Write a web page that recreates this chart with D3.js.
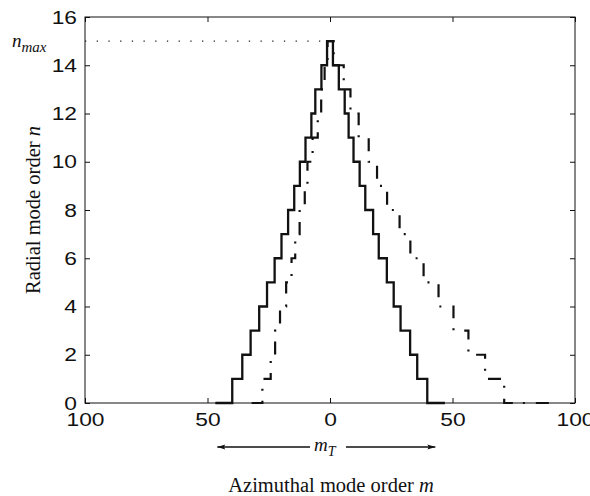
<!DOCTYPE html>
<html>
<head>
<meta charset="utf-8">
<script src="https://cdn.jsdelivr.net/npm/d3@7"></script>
<style>
  body { margin: 0; background: #fff; }
  svg { display: block; }
  .tick text { font-family: "Liberation Sans", Arial, sans-serif; font-size: 19px; fill: #111; }
  .serif { font-family: "Liberation Serif", "Times New Roman", serif; fill: #111; }
</style>
</head>
<body>
<div id="chart"></div>
<script>
// step curve, no flow: level n holds from m[i] until m[i+1]
var solidM = [-46.8, -39.9, -35.8, -32.4, -28.9, -25.7, -22.6, -19.8, -17.1, -14.6, -12.3, -10.0, -7.6, -6.0, -3.5, -1.2,
              1.2, 3.6, 6.0, 7.6, 9.6, 12.1, 14.4, 17.6, 19.9, 23.2, 26.0, 28.8, 32.7, 35.6, 39.7, 46.9];
var solidN = [0, 1, 2, 3, 4, 5, 6, 7, 8, 9, 10, 11, 12, 13, 14, 15,
              14, 13, 12, 11, 10, 9, 8, 7, 6, 5, 4, 3, 2, 1, 0, 0];
// step curve, with flow (dash-dot)
var flowM = [-32.0, -27.6, -24.2, -22.4, -20.4, -17.9, -15.7, -14.2, -12.4, -10.3, -9.2, -7.1, -5.0, -3.6, -2.2, -1.0,
             1.5, 5.6, 8.35, 11.7, 15.8, 19.2, 23.3, 28.4, 32.8, 38.2, 44.3, 50.4, 56.5, 63.3, 71.1, 91.0];
var flowN = [0, 1, 2, 3, 4, 5, 6, 7, 8, 9, 10, 11, 12, 13, 14, 15,
             14, 13, 12, 11, 10, 9, 8, 7, 6, 5, 4, 3, 2, 1, 0, 0];
var xTicks = [-100, -50, 0, 50, 100];
var yTicks = [0, 2, 4, 6, 8, 10, 12, 14, 16];
var nMax = 15;
var mTRange = [-46, 43];

var width = 590, height = 496;
var margin = {top: 17, right: 15, bottom: 93, left: 85};

var svg = d3.select("#chart").append("svg")
    .attr("width", width)
    .attr("height", height);

var x = d3.scaleLinear().domain([-100, 100]).range([margin.left, width - margin.right]);
var y = d3.scaleLinear().domain([0, 16]).range([height - margin.bottom, margin.top]);

// axes, ticks pointing inward on all four sides
var gx = svg.append("g")
    .attr("transform", "translate(0," + y(0) + ")")
    .call(d3.axisBottom(x).tickValues(xTicks).tickSizeInner(-5).tickSizeOuter(0).tickPadding(10)
        .tickFormat(function(d) { return Math.abs(d); }));
var gy = svg.append("g")
    .attr("transform", "translate(" + x(-100) + ",0)")
    .call(d3.axisLeft(y).tickValues(yTicks).tickSizeInner(-5).tickSizeOuter(0).tickPadding(6.7));
svg.append("g")
    .attr("transform", "translate(0," + y(16) + ")")
    .call(d3.axisTop(x).tickValues(xTicks).tickSizeInner(-5).tickSizeOuter(0).tickFormat(""));
svg.append("g")
    .attr("transform", "translate(" + x(100) + ",0)")
    .call(d3.axisRight(y).tickValues(yTicks).tickSizeInner(-5).tickSizeOuter(0).tickFormat(""));

svg.selectAll(".domain").remove();
svg.selectAll(".tick line").attr("stroke", "#111");
// the printed digits are a little wider than normal
gx.selectAll(".tick text").attr("transform", "scale(1.2,1)");
gy.selectAll(".tick text").attr("transform", "scale(1.2,1)");

svg.append("rect")
    .attr("x", x(-100)).attr("y", y(16))
    .attr("width", x(100) - x(-100)).attr("height", y(0) - y(16))
    .attr("fill", "none").attr("stroke", "#111").attr("stroke-width", 1);

// n_max dotted guide
svg.append("line")
    .attr("x1", x(-100)).attr("x2", x(-1))
    .attr("y1", y(nMax)).attr("y2", y(nMax))
    .attr("stroke", "#222").attr("stroke-width", 1.3)
    .attr("stroke-dasharray", "1.3,10.4");

var line = d3.line()
    .x(function(d) { return x(d[0]); })
    .y(function(d) { return y(d[1]); })
    .curve(d3.curveStepAfter);

svg.append("path")
    .datum(d3.zip(flowM, flowN))
    .attr("d", line)
    .attr("fill", "none").attr("stroke", "#111").attr("stroke-width", 2.2)
    .attr("stroke-dasharray", "13,10,2,11");

svg.append("path")
    .datum(d3.zip(solidM, solidN))
    .attr("d", line)
    .attr("fill", "none").attr("stroke", "#111").attr("stroke-width", 2.3)
    .attr("stroke-linejoin", "miter");

// n_max label
var nl = svg.append("text").attr("class", "serif")
    .attr("x", 12).attr("y", y(nMax) + 6)
    .style("font-style", "italic").style("font-size", "19px");
nl.append("tspan").text("n");
nl.append("tspan").attr("dy", 5).style("font-size", "15px").text("max");

// m_T arrow
var ay = 447;
var mid = x(0) - 1;
svg.append("line").attr("x1", x(mTRange[0])).attr("x2", mid - 19).attr("y1", ay).attr("y2", ay)
    .attr("stroke", "#111").attr("stroke-width", 1.4);
svg.append("line").attr("x1", mid + 17).attr("x2", x(mTRange[1])).attr("y1", ay).attr("y2", ay)
    .attr("stroke", "#111").attr("stroke-width", 1.4);
svg.append("path")
    .attr("d", "M" + x(mTRange[0]) + "," + ay + "l8,-2.5l-1.5,2.5l1.5,2.5z")
    .attr("fill", "#111");
svg.append("path")
    .attr("d", "M" + x(mTRange[1]) + "," + ay + "l-8,-2.5l1.5,2.5l-1.5,2.5z")
    .attr("fill", "#111");
var mt = svg.append("text").attr("class", "serif")
    .attr("x", mid - 15).attr("y", ay + 4)
    .style("font-style", "italic").style("font-size", "19px");
mt.append("tspan").text("m");
mt.append("tspan").attr("dy", 5).style("font-size", "14px").text("T");

// axis titles
var xl = svg.append("text").attr("class", "serif")
    .attr("x", (x(-100) + x(100)) / 2 + 1).attr("y", 492)
    .attr("text-anchor", "middle").style("font-size", "20.5px");
xl.append("tspan").text("Azimuthal mode order ");
xl.append("tspan").style("font-style", "italic").text("m");

var yl = svg.append("text").attr("class", "serif")
    .attr("transform", "translate(40," + ((y(0) + y(16)) / 2) + ") rotate(-90)")
    .attr("text-anchor", "middle").style("font-size", "20.5px");
yl.append("tspan").text("Radial mode order ");
yl.append("tspan").style("font-style", "italic").text("n");
</script>
</body>
</html>
